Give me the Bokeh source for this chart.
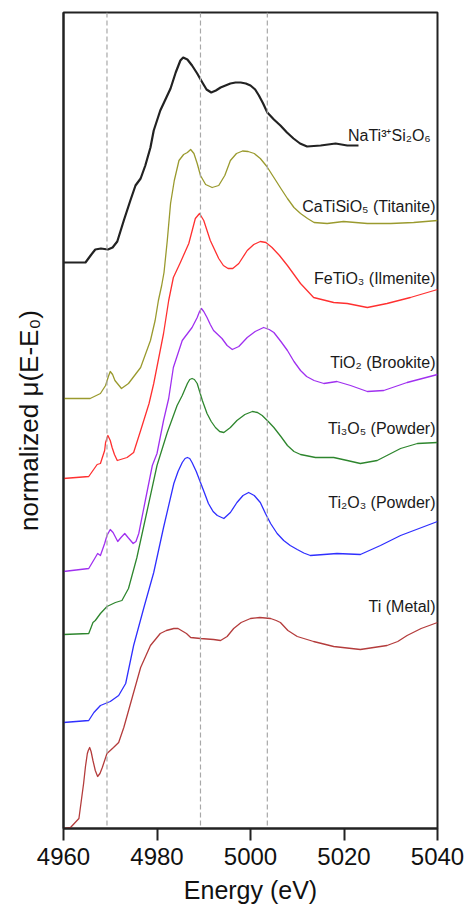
from bokeh.plotting import figure
from bokeh.models import Span, ColumnDataSource, FixedTicker
from bokeh.embed import file_html
from bokeh.resources import INLINE
from bokeh.core.properties import value

FONT = "Liberation Sans"

# ---- data (energy in eV, normalized mu with vertical offsets) ----
na_e = [4960, 4964.7, 4965.8, 4966.8, 4968, 4969.5, 4970.5, 4971.5, 4972.9, 4974.3, 4975.4, 4976.5,
        4977.5, 4978.6, 4979.3, 4980.7, 4982.0, 4982.9, 4984, 4985, 4985.6, 4986.5, 4987.5, 4988.6,
        4989.7, 4990.6, 4991.6, 4992.6, 4993.6, 4995.7, 4996.8, 4997.9, 4999, 5000, 5001, 5001.8,
        5002.7, 5003.6, 5005, 5006.4, 5007.8, 5009.2, 5010.6, 5012.1, 5015, 5018.2, 5020.7, 5023.1]
na_y = [5.66, 5.66, 5.73, 5.79, 5.80, 5.79, 5.81, 5.87, 6.08, 6.28, 6.43, 6.50,
        6.63, 6.81, 6.98, 7.18, 7.31, 7.40, 7.56, 7.68, 7.71, 7.69, 7.63, 7.55,
        7.46, 7.39, 7.36, 7.38, 7.41, 7.45, 7.46, 7.46, 7.45, 7.43, 7.39, 7.33,
        7.25, 7.16, 7.09, 7.03, 6.96, 6.90, 6.85, 6.82, 6.83, 6.85, 6.83, 6.83]

ca_e = [4960, 4965.7, 4967.9, 4969.0, 4969.6, 4970, 4970.5, 4971.0, 4972.4, 4973.9, 4976.5, 4978.6,
        4979.6, 4980.3, 4981.0, 4981.5, 4982.2, 4982.9, 4983.7, 4984.7, 4985.7, 4986.5, 4987.2, 4987.9,
        4988.6, 4989.3, 4990.4, 4991.8, 4993.2, 4994.5, 4995.7, 4997, 4998.3, 4999.5, 5000.8, 5002.1,
        5003.5, 5005, 5006.5, 5007.9, 5009.3, 5010.7, 5012.2, 5013.6, 5016.4, 5019.9, 5025, 5030,
        5034.9, 5040]
ca_y = [4.30, 4.30, 4.35, 4.43, 4.52, 4.57, 4.54, 4.48, 4.40, 4.45, 4.61, 4.88,
        5.08, 5.28, 5.43, 5.56, 5.88, 6.25, 6.48, 6.68, 6.74, 6.76, 6.79, 6.75,
        6.65, 6.53, 6.44, 6.41, 6.43, 6.53, 6.68, 6.75, 6.775, 6.77, 6.75, 6.70,
        6.62, 6.51, 6.40, 6.30, 6.21, 6.15, 6.10, 6.06, 6.05, 6.07, 6.05, 6.05,
        6.06, 6.08]

fe_e = [4960, 4965.4, 4967.2, 4967.9, 4968.8, 4969.0, 4969.5, 4970.0, 4970.4, 4970.9, 4971.5, 4973.6,
        4975, 4976.5, 4978.3, 4979.3, 4981.4, 4982.5, 4983.5, 4985, 4986.8, 4988.2, 4989.1, 4990,
        4991.4, 4993.2, 4994.2, 4995.2, 4996.2, 4997.5, 4999.3, 5000.7, 5002.1, 5003.3, 5004.6, 5006.2,
        5007.9, 5010.7, 5013.5, 5017.8, 5020.7, 5025, 5029.2, 5034.2, 5040]
fe_y = [3.50, 3.52, 3.64, 3.65, 3.78, 3.86, 3.93, 3.88, 3.81, 3.74, 3.68, 3.71,
        3.76, 3.98, 4.25, 4.45, 4.95, 5.28, 5.51, 5.66, 5.85, 6.10, 6.15, 6.08,
        5.88, 5.70, 5.63, 5.60, 5.60, 5.65, 5.78, 5.84, 5.87, 5.86, 5.81, 5.73,
        5.63, 5.45, 5.31, 5.26, 5.25, 5.21, 5.25, 5.31, 5.39]

tio2_e = [4960, 4965.4, 4966.8, 4967.3, 4967.9, 4968.8, 4969.3, 4970, 4970.6, 4971.6, 4972.3, 4973.1,
          4973.8, 4974.9, 4975.5, 4976.1, 4977.5, 4979, 4980, 4981.4, 4982.5, 4983.5, 4985.4, 4987.5,
          4988.6, 4989.1, 4989.5, 4990.0, 4990.7, 4991.4, 4992.1, 4993.9, 4995.0, 4996.1, 4997.5, 4999.3,
          5001, 5002.8, 5004, 5005, 5006.5, 5007.9, 5009.3, 5010.7, 5012, 5013.6, 5015.7, 5018.5,
          5021.4, 5025, 5028.5, 5033.5, 5040]
tio2_y = [2.57, 2.60, 2.71, 2.75, 2.73, 2.85, 2.93, 2.99, 2.96, 2.87, 2.91, 2.95,
          2.91, 2.85, 2.87, 2.95, 3.28, 3.63, 3.75, 4.08, 4.30, 4.61, 4.88, 5.01,
          5.11, 5.17, 5.20, 5.17, 5.11, 5.04, 4.98, 4.90, 4.83, 4.79, 4.82, 4.91,
          4.97, 5.01, 4.99, 4.96, 4.87, 4.78, 4.67, 4.58, 4.52, 4.48, 4.45, 4.47,
          4.43, 4.37, 4.38, 4.46, 4.54]

ti3o5_e = [4960, 4965.4, 4965.9, 4966.3, 4966.8, 4967.9, 4969.3, 4971.1, 4972.5, 4973.9, 4975.7, 4977.9,
           4980, 4982.2, 4984.3, 4985.4, 4986.5, 4987.0, 4987.5, 4988.0, 4988.6, 4989.7, 4990.7, 4991.6,
           4992.5, 4993.4, 4994.3, 4995.7, 4997.1, 4998.8, 5000.4, 5001.5, 5002.5, 5003.8, 5005, 5006.5,
           5007.9, 5009.3, 5010.7, 5013.9, 5017.8, 5020.7, 5023.5, 5027.1, 5032.1, 5035.7, 5040]
ti3o5_y = [1.94, 1.95, 2.01, 2.06, 2.08, 2.15, 2.22, 2.26, 2.28, 2.40, 2.71, 3.18,
           3.63, 3.96, 4.23, 4.33, 4.45, 4.49, 4.50, 4.49, 4.45, 4.28, 4.15, 4.07,
           4.01, 3.97, 3.96, 4.01, 4.08, 4.14, 4.17, 4.16, 4.13, 4.07, 4.01, 3.92,
           3.83, 3.77, 3.74, 3.71, 3.71, 3.68, 3.65, 3.68, 3.80, 3.85, 3.86]

ti2o3_e = [4960, 4965.4, 4966.5, 4967.9, 4970, 4971.8, 4973.3, 4975, 4977.2, 4979.3, 4981.4, 4983.6,
           4984.5, 4985.4, 4986.0, 4986.5, 4987.0, 4987.5, 4988.4, 4989.3, 4990.2, 4991, 4992, 4992.9,
           4994.3, 4995.7, 4997.1, 4998.4, 4999.6, 5000.8, 5002.1, 5003.2, 5004.3, 5005.7, 5007.1, 5008.5,
           5010, 5011.4, 5012.8, 5015.7, 5018.5, 5023.5, 5027.8, 5032.1, 5040]
ti2o3_y = [1.06, 1.08, 1.16, 1.23, 1.27, 1.33, 1.45, 1.83, 2.21, 2.56, 3.01, 3.45,
           3.57, 3.66, 3.70, 3.71, 3.70, 3.66, 3.57, 3.46, 3.35, 3.25, 3.17, 3.13,
           3.10, 3.16, 3.26, 3.33, 3.36, 3.33, 3.26, 3.15, 3.05, 2.95, 2.88, 2.83,
           2.79, 2.755, 2.73, 2.74, 2.75, 2.74, 2.83, 2.93, 3.07]

ti_e = [4960, 4961.5, 4963.3, 4964.3, 4964.7, 4965.1, 4965.3, 4965.6, 4965.9, 4966.3, 4966.8, 4967.3,
        4967.8, 4968.3, 4969.3, 4970.7, 4971.8, 4972.9, 4974.7, 4976.5, 4978.6, 4980.7, 4982, 4983.6,
        4984.5, 4986.3, 4987.2, 4989.3, 4992.1, 4993.6, 4995, 4996.4, 4998, 5000, 5002, 5004.3,
        5005.5, 5006.4, 5008, 5010, 5013.5, 5017.8, 5023.5, 5029.2, 5031.5, 5033.5, 5036.5, 5040]
ti_y = [0.00, 0.01, 0.10, 0.45, 0.62, 0.75, 0.78, 0.81, 0.77, 0.68, 0.58, 0.52,
        0.55, 0.61, 0.75, 0.81, 0.86, 1.01, 1.31, 1.61, 1.83, 1.95, 1.98, 2.00,
        2.00, 1.95, 1.91, 1.90, 1.89, 1.88, 1.92, 2.00, 2.06, 2.10, 2.11, 2.10,
        2.08, 2.06, 1.98, 1.92, 1.87, 1.82, 1.79, 1.83, 1.87, 1.93, 2.00, 2.06]

names = ["NaTi³⁺Si₂O₆", "CaTiSiO₅ (Titanite)", "FeTiO₃ (Ilmenite)", "TiO₂ (Brookite)",
         "Ti₃O₅ (Powder)", "Ti₂O₃ (Powder)", "Ti (Metal)"]
label_x = [5039.0, 5040, 5040, 5040, 5040, 5040, 5040]
label_y = [6.93, 6.22, 5.50, 4.66, 4.00, 3.26, 2.22]
dash_lines = [4969.3, 4989.3, 5003.6]
x_ticks = [4960, 4980, 5000, 5020, 5040]

series = [(na_e, na_y), (ca_e, ca_y), (fe_e, fe_y), (tio2_e, tio2_y),
          (ti3o5_e, ti3o5_y), (ti2o3_e, ti2o3_y), (ti_e, ti_y)]
colors = ["#222222", "#9a9a2e", "#ff3030", "#a030f0", "#2e862e", "#2f2fff", "#b43c3c"]
widths = [2.2, 1.3, 1.3, 1.3, 1.3, 1.3, 1.3]

p = figure(width=467, height=917, x_range=(4960, 5040), y_range=(0, 8.16),
           output_backend="svg", toolbar_location=None,
           min_border_left=63, min_border_right=30, min_border_top=12, min_border_bottom=89)
p.background_fill_color = "white"
p.border_fill_color = "white"
p.grid.visible = False
p.outline_line_color = "#222222"
p.outline_line_width = 2

for xv in dash_lines:
    p.add_layout(Span(location=xv, dimension="height", line_color="#a8a8a8",
                      line_width=1.2, line_dash="5 3"))

for (e, y), c, w in zip(series, colors, widths):
    p.line(e, y, line_color=c, line_width=w, line_join="round")

src = ColumnDataSource(dict(x=label_x, y=label_y, t=names))
p.text(x="x", y="y", text="t", source=src, text_align="right", text_baseline="middle",
       text_font=value(FONT), text_font_size="16px", text_color="#1a1a1a", x_offset=-2)

xa = p.xaxis[0]
xa.ticker = FixedTicker(ticks=x_ticks)
xa.minor_tick_line_color = None
xa.major_tick_in = 0
xa.major_tick_out = 12
xa.major_tick_line_width = 2
xa.axis_line_width = 2
xa.axis_line_color = "#222222"
xa.major_tick_line_color = "#222222"
xa.major_label_text_font = FONT
xa.major_label_text_font_size = "24px"
xa.major_label_text_color = "#111111"
xa.major_label_standoff = 7
xa.axis_label = "Energy (eV)"
xa.axis_label_text_font = FONT
xa.axis_label_text_font_size = "25px"
xa.axis_label_text_font_style = "normal"
xa.axis_label_text_color = "#111111"
xa.axis_label_standoff = 8

ya = p.yaxis[0]
ya.ticker = FixedTicker(ticks=[])
ya.major_tick_line_color = None
ya.minor_tick_line_color = None
ya.major_label_text_font_size = "0px"
ya.axis_line_width = 2
ya.axis_line_color = "#222222"
ya.axis_label = "normalized μ(E-E₀)"
ya.axis_label_text_font = FONT
ya.axis_label_text_font_size = "26px"
ya.axis_label_text_font_style = "normal"
ya.axis_label_text_color = "#111111"
ya.axis_label_standoff = 20

open("out.html", "w").write(file_html(p, INLINE))
